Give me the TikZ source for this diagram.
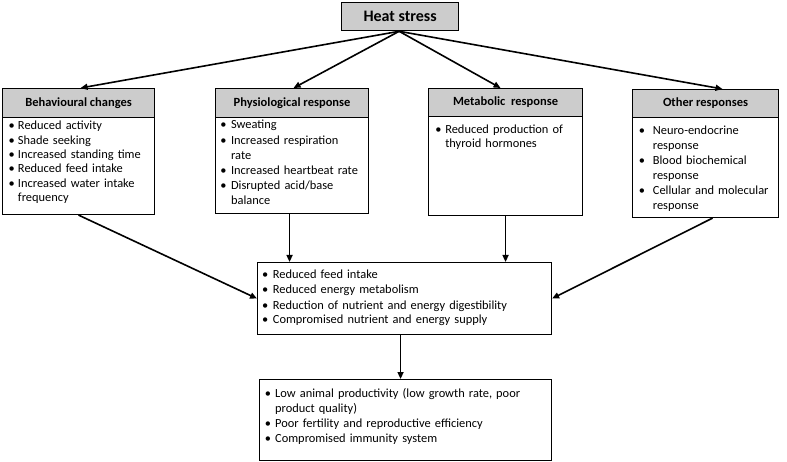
\documentclass[tikz,border=0pt]{standalone}
\usepackage{fontspec}
\setmainfont{Carlito}
\usetikzlibrary{arrows.meta}
\newlength\bind
\newcommand\bi{\par\noindent\makebox[\bind][l]{\makebox[0pt]{\textbullet}}\rule{0pt}{10pt}\ignorespaces}
\newcommand\nl{\par\noindent\hspace*{\bind}\ignorespaces}
\tikzset{
  hdr/.style={draw, line width=1.1pt, fill=gray!40, inner sep=0pt, anchor=north west, font={\fontsize{12.5}{15}\bfseries\selectfont}},
  bodybox/.style={draw, line width=1.1pt, fill=white, inner sep=0pt, anchor=north west},
  txt/.style={inner sep=0pt, anchor=north west, align=left, text width=280pt, font={\fontsize{12.4}{14.4}\selectfont}},
  arr/.style={line width=1.6pt, -{Triangle[length=7pt,width=6pt]}}
}
\begin{document}
\begin{tikzpicture}[x=1pt,y=-1pt]
\useasboundingbox (0,0) rectangle (787,462);
% top
\node[hdr, line width=1.3pt, minimum width=117, minimum height=28, font={\fontsize{16}{19}\bfseries\selectfont}] (hs) at (341,2) {Heat stress};
% behavioural
\node[hdr, minimum width=152, minimum height=29] (bh) at (2,88) {Behavioural changes};
\node[bodybox, minimum width=152, minimum height=97] (bb) at (2,117) {};
\node[txt] (bt) at (11.5,115.5) {\setlength\bind{6.3pt}\baselineskip=14.3pt
\bi Reduced activity
\bi Shade seeking
\bi Increased standing time
\bi Reduced feed intake
\bi Increased water intake
\nl frequency};
% physiological
\node[hdr, minimum width=153, minimum height=29] (ph) at (215,88) {Physiological response};
\node[bodybox, minimum width=153, minimum height=96] (pb) at (215,117) {};
\node[txt] (pt) at (223.3,113.5) {\setlength\bind{7.6pt}\baselineskip=15.2pt
\bi Sweating
\bi Increased respiration
\nl rate
\bi Increased heartbeat rate
\bi Disrupted acid/base
\nl balance};
% metabolic
\node[hdr, minimum width=154, minimum height=28] (mh) at (428,88) {Metabolic\ \ response};
\node[bodybox, minimum width=154, minimum height=99] (mb) at (428,116) {};
\node[txt] (mt) at (438.3,118) {\setlength\bind{6.8pt}\baselineskip=15pt
\bi Reduced production of
\nl thyroid hormones};
% other
\node[hdr, minimum width=146, minimum height=28] (oh) at (632,89) {Other responses};
\node[bodybox, minimum width=146, minimum height=100] (ob) at (632,117) {};
\node[txt] (ot) at (641.7,119.5) {\setlength\bind{11pt}\baselineskip=15pt
\bi Neuro-endocrine
\nl response
\bi Blood biochemical
\nl response
\bi Cellular and molecular
\nl response};
% middle
\node[bodybox, minimum width=294, minimum height=72] (mid) at (257,262) {};
\node[txt] (midt) at (265,263) {\setlength\bind{7.7pt}\baselineskip=15.4pt
\bi Reduced feed intake
\bi Reduced energy metabolism
\bi Reduction of nutrient and energy digestibility
\bi Compromised nutrient and energy supply};
% bottom
\node[bodybox, minimum width=292, minimum height=81] (bot) at (259,379) {};
\node[txt] (bott) at (267.7,382) {\setlength\bind{7.3pt}\baselineskip=15.2pt
\bi Low animal productivity (low growth rate, poor
\nl product quality)
\bi Poor fertility and reproductive efficiency
\bi Compromised immunity system};
% arrows from top
\coordinate (apex) at ([xshift=-1pt]hs.south);
\draw[arr] (apex) -- ([xshift=2pt]bh.north);
\draw[arr] (apex) -- ([xshift=1.5pt]ph.north);
\draw[arr] (apex) -- ([xshift=-5pt]mh.north);
\draw[arr] (apex) -- ([xshift=17pt]oh.north);
% arrows to middle
\draw[arr] (bb.south) -- (mid.west);
\draw[arr] ([xshift=-2.5pt]pb.south) -- ([xshift=-2.5pt]pb.south |- mid.north);
\draw[arr] (mb.south) -- (mb.south |- mid.north);
\draw[arr] ([xshift=7pt]ob.south) -- (mid.east);
% middle to bottom
\draw[arr] ([xshift=-4pt]mid.south) -- ([xshift=-4pt]mid.south |- bot.north);
\end{tikzpicture}
\end{document}
